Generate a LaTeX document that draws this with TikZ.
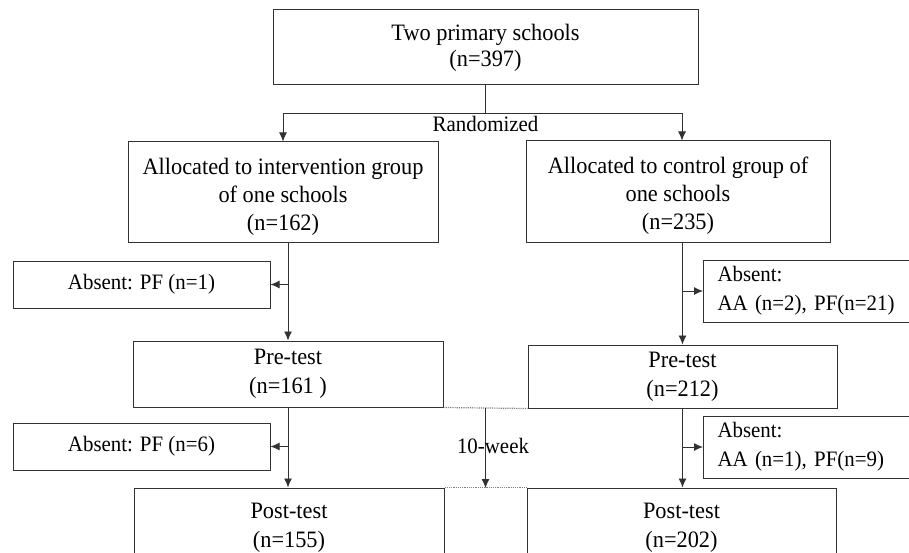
\documentclass[tikz,border=0pt]{standalone}
\usepackage{fontspec}
\setmainfont{Liberation Serif}[FakeStretch=0.95]
\usepackage{tikz}
\definecolor{ln}{RGB}{50, 50, 50}
\definecolor{dt}{RGB}{130, 130, 130}
\usetikzlibrary{arrows.meta}
\newcommand{\padtop}[1]{\rule{0pt}{#1}}

\begin{document}
\begin{tikzpicture}[
box/.style={draw=ln, line width=1pt, align=center, inner sep=0pt, font={\fontsize{23.5}{29}\selectfont}},
absbox/.style={draw=ln, line width=1pt, align=center, inner sep=0pt, font={\fontsize{22}{29}\selectfont}},
link/.style={line width=0.9pt, color=ln, -{Latex[length=9pt, width=8pt]}},
lbl/.style={inner sep=0pt, font={\fontsize{22}{25}\selectfont}}]
\clip (0pt, 0pt) rectangle (909pt, -553pt);
\fill [white] (0pt, 0pt) rectangle (909pt, -553pt);
% boxes
\node (top) [box, font={\fontsize{23.5}{26}\selectfont}, minimum width=425pt, minimum height=75pt] at (485.5pt, -47.5pt) {Two primary schools\\(n=397)};
\node (intv) [box, font={\fontsize{23.5}{28}\selectfont}, minimum width=310pt, minimum height=100pt] at (283.0pt, -192.0pt) {\padtop{26pt}Allocated to intervention group\\of one schools\\(n=162)};
\node (ctrl) [box, font={\fontsize{23.5}{28}\selectfont}, minimum width=304pt, minimum height=101pt] at (678.0pt, -191.5pt) {\padtop{26pt}Allocated to control group of\\one schools\\(n=235)};
\node (absI1) [absbox, minimum width=257pt, minimum height=47pt] at (141.5pt, -284.5pt) {Absent: PF (n=1)};
\node (absC1) [absbox, text width=215pt, align=left, inner xsep=14pt, minimum height=62pt, anchor=west] at (703.0pt, -291.0pt) {Absent:\\AA (n=2), PF(n=21)};
\node (preI) [box, minimum width=310pt, minimum height=66pt] at (288.0pt, -374.0pt) {Pre-test\\(n=161 )};
\node (preC) [box, minimum width=309pt, minimum height=63pt] at (682.5pt, -376.5pt) {Pre-test\\(n=212)};
\node (absI2) [absbox, minimum width=257pt, minimum height=47pt] at (141.5pt, -446.5pt) {Absent: PF (n=6)};
\node (absC2) [absbox, text width=215pt, align=left, inner xsep=14pt, minimum height=62pt, anchor=west] at (703.0pt, -447.0pt) {Absent:\\AA (n=1), PF(n=9)};
\node (postI) [box, minimum width=310pt, minimum height=80pt] at (289.0pt, -528.0pt) {Post-test\\(n=155)};
\node (postC) [box, minimum width=309pt, minimum height=80pt] at (681.5pt, -528.0pt) {Post-test\\(n=202)};
% randomization
\coordinate (split) at (485.5pt, -113.0pt);
\node (rand) [lbl] at (485.5pt, -124.0pt) {Randomized};
\draw [line width=0.9pt, color=ln] (top) to (split);
\draw [link] (split) -| (intv.north);
\draw [link] (split) -| ([xshift=4pt]ctrl.north);
% intervention arm
\draw [link] (preI.north |- intv.south) to (preI.north);
\draw [link] (absI1.east -| preI.north) to (absI1.east);
\draw [link] (preI.south) to (preI.south |- postI.north);
\draw [link] (absI2.east -| preI.south) to (absI2.east);
% control arm
\draw [link] (preC.north |- ctrl.south) to (preC.north);
\draw [link] (absC1.west -| preC.north) to (absC1.west);
\draw [link] (preC.south) to (preC.south |- postC.north);
\draw [link] (absC2.west -| preC.south) to (absC2.west);
% 10-week
\draw [densely dotted, line width=1.2pt, color=dt] (preI.south east) to (preC.south west);
\draw [densely dotted, line width=1.2pt, color=dt] (postI.north east) to (postC.north west);
\coordinate (wkA) at (485.5pt, -407.5pt);
\coordinate (wkB) at (485.5pt, -488.0pt);
\draw [link] (wkA) to (wkB);
\node (week) [lbl] at (493.0pt, -446.0pt) {10-week};
\end{tikzpicture}
\end{document}
